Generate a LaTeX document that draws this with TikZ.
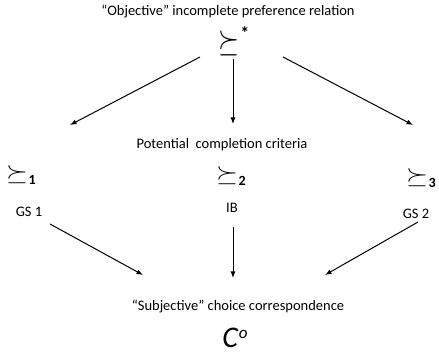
\documentclass[tikz,border=0pt]{standalone}
\usepackage{fontspec}
\setmainfont{Carlito}
\usetikzlibrary{arrows.meta}
\newcommand{\relsub}[1]{\resizebox*{22pt}{18pt}{$\succeq$}\hspace{0.5pt}\raisebox{-3.8pt}{\fontsize{14}{15}\selectfont\textbf{#1}}}
\tikzset{
  lbl/.style={font=\fontsize{14.5}{16}\selectfont, inner sep=0pt},
  rel/.style={inner sep=0pt},
  arr/.style={-{Latex[length=6.5pt,width=5pt]}, line width=1pt}
}
\begin{document}
\begin{tikzpicture}[x=1pt,y=-1pt]
\useasboundingbox (0,0) rectangle (439,355);

% top
\node[lbl] (objtxt) at (228,12) {“Objective” incomplete preference relation};
\node[rel] (star) at (234,41) {\resizebox*{21pt}{25pt}{$\succeq$}\hspace{0.5pt}\raisebox{12pt}{\fontsize{18}{19}\selectfont\textbf{*}}};

% middle
\node[lbl] (crit) at (222,145) {Potential\ \ completion criteria};
\node[rel] (p1) at (21,175) {\relsub{1}};
\node[rel] (p2) at (231,176) {\relsub{2}};
\node[rel] (p3) at (421,178) {\relsub{3}};
\node[lbl] (gs1) at (29,212) {GS 1};
\node[lbl] (ib) at (232,208) {IB};
\node[lbl] (gs2) at (416,214) {GS 2};

% bottom
\node[lbl] (subtxt) at (238,307) {“Subjective” choice correspondence};
\node[rel] (co) at (235,338) {\fontsize{30}{32}\selectfont\textit{C}\raisebox{9pt}{\fontsize{17}{18}\selectfont\textit{o}}};

% arrow ends
\coordinate (a1) at (200,57);  \coordinate (b1) at (70,125);
\coordinate (a2) at (233,59);  \coordinate (b2) at (233,124);
\coordinate (a3) at (283,57);  \coordinate (b3) at (413,125);
\coordinate (c1) at (50,224);  \coordinate (d1) at (143,275);
\coordinate (c2) at (233,227); \coordinate (d2) at (233,278);
\coordinate (c3) at (418,222); \coordinate (d3) at (325,275);

\draw[arr] (a1) -- (b1);
\draw[arr] (a2) -- (b2);
\draw[arr] (a3) -- (b3);
\draw[arr] (c1) -- (d1);
\draw[arr] (c2) -- (d2);
\draw[arr] (c3) -- (d3);

\end{tikzpicture}
\end{document}
